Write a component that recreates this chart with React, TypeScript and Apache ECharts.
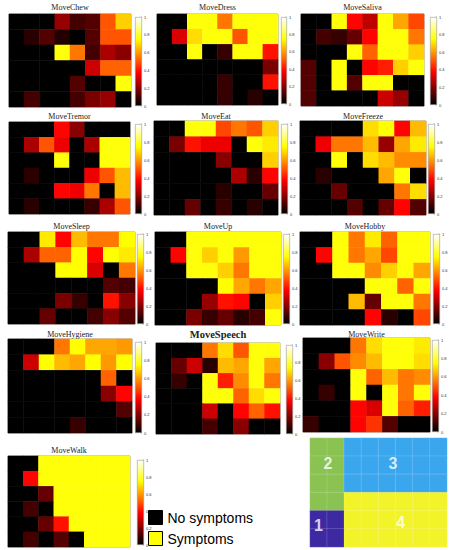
import React, { useEffect, useRef } from "react";
import * as echarts from "echarts";

const COLS = ["1", "2", "3", "4", "5", "6", "7", "8"];
const ROWS = ["1", "2", "3", "4", "5", "6"];
const CB_TICKS = [0, 0.2, 0.4, 0.6, 0.8, 1];

const NAMES = [
  "MoveChew", "MoveDress", "MoveSaliva",
  "MoveTremor", "MoveEat", "MoveFreeze",
  "MoveSleep", "MoveUp", "MoveHobby",
  "MoveHygiene", "MoveSpeech", "MoveWrite",
  "MoveWalk",
];

const moveChew = [
  [0, 0, 0, 0.22, 0.1, 0.12, 0.5, 0.68],
  [0, 0.06, 0.12, 0.05, 0, 0.12, 0.5, 0.5],
  [0, 0, 0, 0.76, 0.55, 0.1, 0.25, 0.2],
  [0, 0, 0, 0, 0, 0.3, 0.52, 0.52],
  [0, 0, 0, 0, 0.12, 0, 0, 0.76],
  [0, 0.1, 0, 0, 0.1, 0.18, 0.22, 0],
];
const moveDress = [
  [0, 0, 0.76, 0.76, 0.55, 0.76, 0.76, 0.76],
  [0, 0.32, 0.7, 0.76, 0.76, 0.5, 0.76, 0.76],
  [0, 0, 0.76, 0, 0.08, 0.76, 0.76, 0.4],
  [0, 0, 0, 0, 0, 0, 0, 0.18],
  [0, 0, 0, 0, 0.08, 0, 0, 0.4],
  [0, 0, 0, 0, 0.08, 0, 0.06, 0],
];
const moveSaliva = [
  [0, 0, 0.76, 0.38, 0.28, 0.76, 0.62, 0.48],
  [0, 0.1, 0.08, 0.15, 0.38, 0.76, 0.76, 0.55],
  [0, 0, 0, 0.76, 0.52, 0.76, 0.76, 0.68],
  [0.12, 0, 0.76, 0, 0.38, 0.42, 0.68, 0.76],
  [0.12, 0, 0.76, 0.12, 0.76, 0.76, 0, 0],
  [0.12, 0, 0, 0, 0, 0.3, 0.22, 0],
];
const moveTremor = [
  [0, 0, 0, 0.38, 0.2, 0, 0, 0],
  [0, 0.25, 0.5, 0.35, 0, 0.25, 0.76, 0.76],
  [0, 0, 0, 0.76, 0, 0, 0.76, 0.76],
  [0, 0.06, 0, 0, 0, 0.35, 0.5, 0.65],
  [0, 0, 0, 0.38, 0.35, 0.55, 0, 0.65],
  [0, 0.06, 0, 0, 0, 0.08, 0.25, 0.5],
];
const moveEat = [
  [0, 0, 0.76, 0.76, 0.48, 0.55, 0.5, 0.68],
  [0, 0.18, 0.4, 0.35, 0.35, 0, 0.76, 0.72],
  [0, 0, 0, 0, 0.2, 0, 0, 0.68],
  [0, 0, 0, 0, 0, 0.25, 0.06, 0.38],
  [0, 0, 0, 0, 0.06, 0, 0, 0.15],
  [0, 0, 0.15, 0, 0.08, 0, 0.06, 0],
];
const moveFreeze = [
  [0, 0, 0, 0, 0.7, 0.75, 0.38, 0.65],
  [0, 0.35, 0.55, 0.55, 0.65, 0.22, 0.62, 0.72],
  [0, 0, 0.76, 0, 0.7, 0.65, 0.58, 0.58],
  [0, 0.06, 0, 0, 0, 0.62, 0.76, 0],
  [0, 0, 0.15, 0, 0, 0, 0.55, 0.7],
  [0, 0, 0, 0.12, 0, 0.15, 0.38, 0.12],
];
const moveSleep = [
  [0, 0, 0.72, 0.38, 0.65, 0.55, 0.55, 0.75],
  [0, 0.25, 0.52, 0.52, 0.75, 0.38, 0.75, 0.72],
  [0, 0, 0, 0.75, 0.75, 0.32, 0, 0.55],
  [0, 0, 0, 0, 0, 0, 0.12, 0.1],
  [0, 0, 0, 0.18, 0.08, 0, 0.4, 0.2],
  [0, 0, 0.15, 0, 0, 0.1, 0.2, 0.12],
];
const moveUp = [
  [0, 0, 0.76, 0.76, 0.76, 0.76, 0.76, 0.76],
  [0, 0.38, 0.76, 0.68, 0.76, 0.6, 0.76, 0.76],
  [0, 0, 0.76, 0.76, 0.68, 0.55, 0.76, 0.76],
  [0, 0, 0, 0, 0.75, 0.62, 0.55, 0.62],
  [0, 0, 0, 0.22, 0.4, 0.38, 0, 0.68],
  [0, 0, 0.18, 0.08, 0.15, 0.06, 0.1, 0.76],
];
const moveHobby = [
  [0, 0, 0.76, 0.55, 0.72, 0.52, 0.76, 0.76],
  [0, 0.38, 0.76, 0.55, 0.62, 0.48, 0.76, 0.76],
  [0, 0, 0.76, 0.76, 0.58, 0.68, 0.76, 0.62],
  [0, 0, 0, 0, 0.76, 0.76, 0.52, 0.76],
  [0, 0, 0, 0.65, 0.15, 0.76, 0.76, 0.55],
  [0, 0, 0, 0, 0.38, 0.06, 0, 0.48],
];
const moveHygiene = [
  [0, 0, 0, 0.55, 0.75, 0.62, 0.62, 0.6],
  [0, 0.3, 0.75, 0.65, 0.62, 0.75, 0.6, 0.75],
  [0, 0, 0, 0, 0, 0, 0.52, 0],
  [0, 0, 0, 0, 0, 0, 0.2, 0.38],
  [0, 0, 0, 0, 0, 0, 0, 0.12],
  [0, 0, 0, 0, 0.08, 0, 0, 0],
];
const moveSpeech = [
  [0, 0, 0, 0.55, 0.7, 0.5, 0.76, 0.76],
  [0, 0.15, 0.3, 0.06, 0.65, 0.62, 0.76, 0.62],
  [0, 0.08, 0, 0.76, 0.42, 0.58, 0.76, 0.55],
  [0, 0, 0, 0.76, 0.76, 0.52, 0.7, 0.76],
  [0, 0, 0, 0.3, 0, 0.38, 0.52, 0.4],
  [0, 0, 0, 0.1, 0, 0.2, 0, 0],
];
const moveWrite = [
  [0, 0, 0, 0.55, 0.7, 0.76, 0.76, 0.72],
  [0, 0.2, 0.5, 0.58, 0.65, 0.76, 0.76, 0.7],
  [0, 0, 0, 0.76, 0.52, 0.65, 0.55, 0.58],
  [0, 0.08, 0, 0.76, 0, 0.76, 0.55, 0.76],
  [0, 0, 0, 0.38, 0.32, 0.76, 0.52, 0.42],
  [0.08, 0, 0, 0.38, 0.45, 0.12, 0, 0],
];
const moveWalk = [
  [0, 0, 0.76, 0.76, 0.76, 0.76, 0.76, 0.76],
  [0, 0.38, 0.76, 0.76, 0.76, 0.76, 0.76, 0.76],
  [0, 0, 0.15, 0.76, 0.76, 0.76, 0.76, 0.76],
  [0, 0.1, 0, 0.76, 0.76, 0.76, 0.76, 0.76],
  [0, 0, 0.15, 0.4, 0.76, 0.76, 0.76, 0.76],
  [0, 0.1, 0, 0.12, 0, 0.76, 0.76, 0.76],
];

const PANEL_VALUES = [
  moveChew, moveDress, moveSaliva,
  moveTremor, moveEat, moveFreeze,
  moveSleep, moveUp, moveHobby,
  moveHygiene, moveSpeech, moveWrite,
  moveWalk,
];

// region map (rows top to bottom)
const REGIONS = [
  [2, 2, 3, 3, 3, 3, 3, 3],
  [2, 2, 3, 3, 3, 3, 3, 3],
  [2, 2, 3, 3, 3, 3, 3, 3],
  [2, 2, 4, 4, 4, 4, 4, 4],
  [1, 1, 4, 4, 4, 4, 4, 4],
  [1, 1, 4, 4, 4, 4, 4, 4],
];
const REGION_LABELS = ["1", "2", "3", "4"];
const REGION_LABEL_POS = [
  [0.5, 1.2],
  [1.05, 4.6],
  [4.85, 4.6],
  [5.3, 1.35],
];
const LEGEND_ITEMS = ["No symptoms", "Symptoms"];

// layout: heatmap [left, top, right, bottom], colorbar [left, right, top, bottom], title y
const LAYOUT = [
  { hm: [9, 14, 131, 107], cb: [135, 142, 17, 106], ty: 3 },
  { hm: [157, 14, 278, 105], cb: [281, 287, 17, 104], ty: 3 },
  { hm: [301, 14, 424, 106], cb: [430, 437, 17, 105], ty: 3 },
  { hm: [9, 122, 130, 214], cb: [135, 142, 124, 214], ty: 112 },
  { hm: [154, 121, 278, 215], cb: [281, 288, 124, 214], ty: 112 },
  { hm: [300, 121, 426, 215], cb: [428, 435, 124, 214], ty: 112 },
  { hm: [8, 232, 135, 324], cb: [137, 144, 234, 324], ty: 222 },
  { hm: [155, 232, 281, 325], cb: [283, 290, 234, 324], ty: 222 },
  { hm: [300, 232, 430, 325], cb: [433, 440, 234, 324], ty: 222 },
  { hm: [8, 339, 132, 433], cb: [135, 142, 342, 433], ty: 330 },
  { hm: [156, 343, 280, 434], cb: [286, 293, 345, 434], ty: 329 },
  { hm: [303, 338, 430, 432], cb: [432, 439, 340, 432], ty: 330 },
  { hm: [8, 456, 130, 547], cb: [137, 144, 460, 545], ty: 446 },
];
const REGION_BOX = [310, 438, 447, 547];

const HOT = ["#000000", "#550000", "#aa0000", "#ff0000", "#ff5500", "#ffaa00", "#ffff00", "#ffff80", "#ffffff"];

export default function App() {
  const ref = useRef<HTMLDivElement>(null);
  useEffect(() => {
    if (!ref.current) return;
    const chart = echarts.init(ref.current, undefined, { renderer: "svg" });
    const grid: any[] = [];
    const xAxis: any[] = [];
    const yAxis: any[] = [];
    const series: any[] = [];
    const title: any[] = [];
    const heatSeriesIdx: number[] = [];

    NAMES.forEach((name, i) => {
      const L = LAYOUT[i];
      const g = grid.length;
      grid.push({
        left: L.hm[0], top: L.hm[1], width: L.hm[2] - L.hm[0], height: L.hm[3] - L.hm[1],
        show: true, borderColor: "#999", borderWidth: 1, backgroundColor: "transparent",
      });
      xAxis.push({ type: "category", gridIndex: g, data: COLS, show: false });
      yAxis.push({ type: "category", gridIndex: g, data: ROWS, inverse: true, show: false });
      const data: any[] = [];
      PANEL_VALUES[i].forEach((row, r) => row.forEach((v, c) => data.push([c, r, v])));
      heatSeriesIdx.push(series.length);
      series.push({
        type: "heatmap", name, xAxisIndex: g, yAxisIndex: g, data,
        itemStyle: { borderWidth: 0 }, emphasis: { disabled: true },
      });
      const cg = grid.length;
      grid.push({ left: L.cb[0], top: L.cb[2], width: L.cb[1] - L.cb[0], height: L.cb[3] - L.cb[2] });
      xAxis.push({ type: "category", gridIndex: cg, data: [""], show: false });
      yAxis.push({
        type: "value", gridIndex: cg, min: 0, max: 1, interval: 0.2, position: "right",
        axisLine: { show: false }, splitLine: { show: false },
        axisTick: { show: true, inside: true, length: 1.5, lineStyle: { color: "#666", width: 0.4 } },
        axisLabel: { fontSize: 4, color: "#333", margin: 2, formatter: (v: number) => (CB_TICKS.includes(+v.toFixed(1)) ? String(+v.toFixed(1)) : "") },
      });
      series.push({
        type: "bar", xAxisIndex: cg, yAxisIndex: cg, data: [1], barWidth: "100%", silent: true,
        itemStyle: {
          borderColor: "#999", borderWidth: 0.6,
          color: {
            type: "linear", x: 0, y: 1, x2: 0, y2: 0,
            colorStops: HOT.map((c, k) => ({ offset: k / (HOT.length - 1), color: c })),
          },
        },
      });
      const bold = name === "MoveSpeech";
      title.push({
        text: name, left: (L.hm[0] + L.hm[2]) / 2, top: L.ty, textAlign: "center", padding: 0,
        textStyle: { fontFamily: "Liberation Serif", fontWeight: bold ? "bold" : "normal", fontSize: bold ? 10.5 : 8, color: "#222" },
      });
    });

    // region map
    const rg = grid.length;
    grid.push({ left: REGION_BOX[0], top: REGION_BOX[1], width: REGION_BOX[2] - REGION_BOX[0], height: REGION_BOX[3] - REGION_BOX[1] });
    xAxis.push({ type: "category", gridIndex: rg, data: COLS, show: false });
    yAxis.push({ type: "category", gridIndex: rg, data: ROWS, inverse: true, show: false });
    const rx = xAxis.length;
    xAxis.push({ type: "value", gridIndex: rg, min: 0, max: 8, show: false });
    yAxis.push({ type: "value", gridIndex: rg, min: 0, max: 6, show: false });
    const regionData: any[] = [];
    REGIONS.forEach((row, r) => row.forEach((v, c) => regionData.push([c, r, v])));
    const regionIdx = series.length;
    series.push({
      type: "heatmap", xAxisIndex: rg, yAxisIndex: rg, data: regionData,
      itemStyle: { borderColor: "rgba(255,255,255,0.3)", borderWidth: 0.5 }, emphasis: { disabled: true },
    });
    series.push({
      type: "scatter", xAxisIndex: rx, yAxisIndex: rx, symbolSize: 0, silent: true,
      data: REGION_LABEL_POS.map((p, k) => ({ value: p, name: REGION_LABELS[k] })),
      label: { show: true, position: "inside", formatter: "{b}", color: "#fff", fontFamily: "Liberation Sans", fontWeight: "bold", fontSize: 16 },
    });
    // legend dummy series
    const legendColors = ["#000000", "#ffff00"];
    LEGEND_ITEMS.forEach((n, k) => {
      series.push({ type: "scatter", name: n, xAxisIndex: rx, yAxisIndex: rx, data: [], itemStyle: { color: legendColors[k], borderColor: "#000", borderWidth: 1, opacity: 1 } });
    });

    chart.setOption({
      animation: false,
      backgroundColor: "#fff",
      title,
      grid,
      xAxis,
      yAxis,
      legend: {
        data: LEGEND_ITEMS.map((n, k) => ({ name: n, itemStyle: { color: legendColors[k], borderColor: "#000", borderWidth: 1, opacity: 1 } })),
        orient: "vertical", left: 148, top: 510, icon: "rect", padding: 0,
        itemWidth: 14, itemHeight: 14, itemGap: 6, selectedMode: false,
        textStyle: { fontFamily: "Liberation Sans", fontSize: 14, color: "#000" },
      },
      visualMap: [
        { type: "continuous", min: 0, max: 1, show: false, seriesIndex: heatSeriesIdx, inRange: { color: HOT } },
        {
          type: "piecewise", show: false, seriesIndex: regionIdx,
          pieces: [
            { value: 1, color: "#3d2aa3" },
            { value: 2, color: "#8bc352" },
            { value: 3, color: "#3aa6ee" },
            { value: 4, color: "#f3f32a" },
          ],
        },
      ],
      series,
    });
    return () => chart.dispose();
  }, []);
  return <div ref={ref} style={{ position: "fixed", left: 0, top: 0, width: 455, height: 550 }} />;
}
